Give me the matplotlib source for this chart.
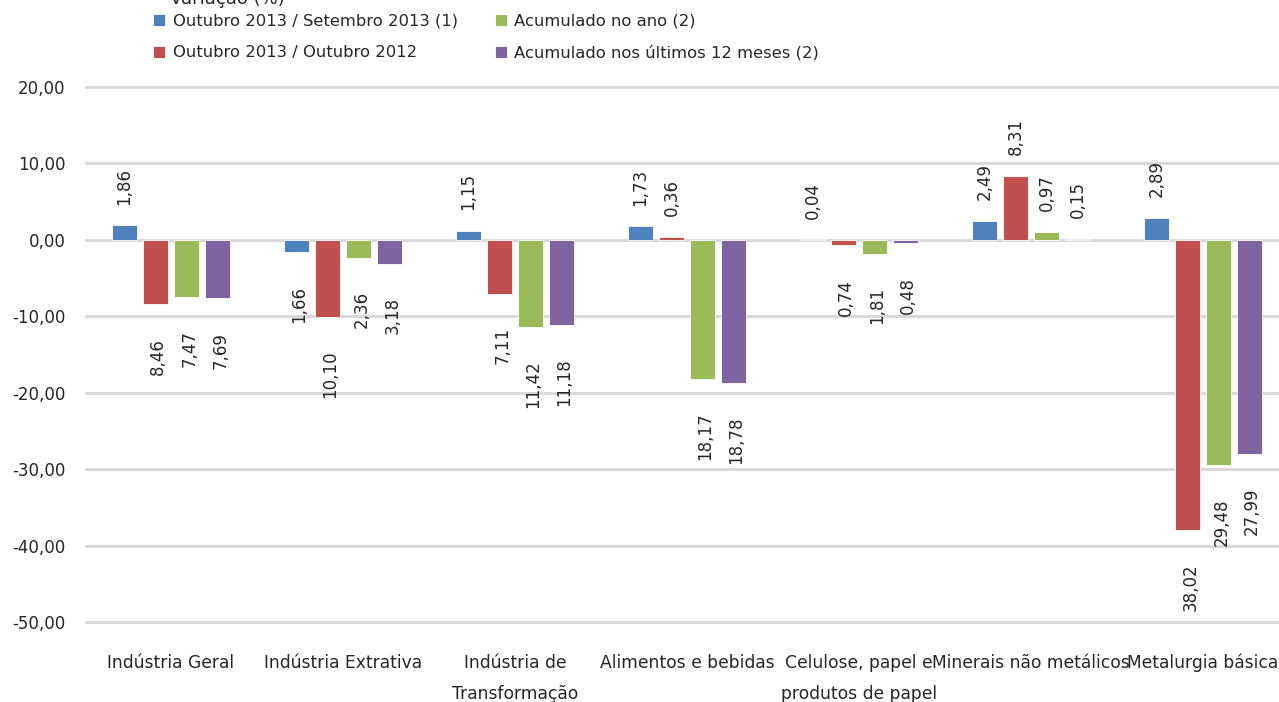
import matplotlib
matplotlib.use("Agg")
import matplotlib.pyplot as plt
import numpy as np

categorias = [
    "Indústria Geral",
    "Indústria Extrativa",
    "Indústria de\nTransformação",
    "Alimentos e bebidas",
    "Celulose, papel e\nprodutos de papel",
    "Minerais não metálicos",
    "Metalurgia básica",
]
series = [
    "Outubro 2013 / Setembro 2013 (1)",
    "Outubro 2013 / Outubro 2012",
    "Acumulado no ano (2)",
    "Acumulado nos últimos 12 meses (2)",
]
out_set = [1.86, -1.66, 1.15, 1.73, 0.04, 2.49, 2.89]
out_out = [-8.46, -10.10, -7.11, 0.36, -0.74, 8.31, -38.02]
acum_ano = [-7.47, -2.36, -11.42, -18.17, -1.81, 0.97, -29.48]
acum_12m = [-7.69, -3.18, -11.18, -18.78, -0.48, 0.15, -27.99]
cores = ["#4F81BD", "#C0504D", "#9BBB59", "#8064A2"]
yticks = [20, 10, 0, -10, -20, -30, -40, -50]

plt.rcParams["font.family"] = ["DejaVu Sans"]
plt.rcParams["axes.unicode_minus"] = False
texto = "#262626"

fig = plt.figure(figsize=(12.79, 7.02), dpi=100)
ax = fig.add_axes([85 / 1279, 0.1085, 1204 / 1279, 0.7734])

x = np.arange(len(categorias))
passo = 0.18
largura = 0.142
valores = [out_set, out_out, acum_ano, acum_12m]
for i, (vals, cor, nome) in enumerate(zip(valores, cores, series)):
    pos = x + (i - 1.5) * passo
    ax.bar(pos, vals, width=largura, color=cor, edgecolor="white",
           linewidth=0.6, label=nome, zorder=3)
    # rótulos sem sinal, como no original
    for xp, v in zip(pos, vals):
        if v >= 0:
            ax.annotate(f"{abs(v):.2f}".replace(".", ","), (xp, v),
                        xytext=(0, 15), textcoords="offset points",
                        rotation=90, ha="center", va="bottom",
                        fontsize=12, color=texto)
        else:
            ax.annotate(f"{abs(v):.2f}".replace(".", ","), (xp, v),
                        xytext=(2, -24), textcoords="offset points",
                        rotation=90, ha="center", va="top",
                        fontsize=12, color=texto)

ax.set_xlim(-0.5, len(categorias) - 0.5)
ax.set_ylim(-50.5, 20.5)
ax.set_yticks(yticks)
ax.set_yticklabels([f"{v:.2f}".replace(".", ",") for v in yticks],
                   fontsize=12, color=texto)
ax.set_xticks(x)
ax.set_xticklabels(categorias, fontsize=12.3, color=texto)
for lbl in ax.get_xticklabels():
    lbl.set_linespacing(1.95)
ax.tick_params(axis="both", length=0)
ax.tick_params(axis="y", pad=14)
ax.tick_params(axis="x", pad=20)
ax.grid(axis="y", color="#D9D9D9", linewidth=2.2, zorder=0)
for s in ax.spines.values():
    s.set_visible(False)

fig.text(170 / 1279, 1 - 4 / 702, "Variação (%)", fontsize=13,
         color=texto, va="baseline", ha="left")

fig.legend(loc="upper left", bbox_to_anchor=(153 / 1279, 1 - 14 / 702),
           bbox_transform=fig.transFigure, ncol=2, frameon=False,
           fontsize=11.8, handlelength=0.75, handleheight=0.75,
           handletextpad=0.45, columnspacing=2.25, labelspacing=1.0,
           borderpad=0, borderaxespad=0, labelcolor=texto)

fig.savefig("out.png", dpi=100)
